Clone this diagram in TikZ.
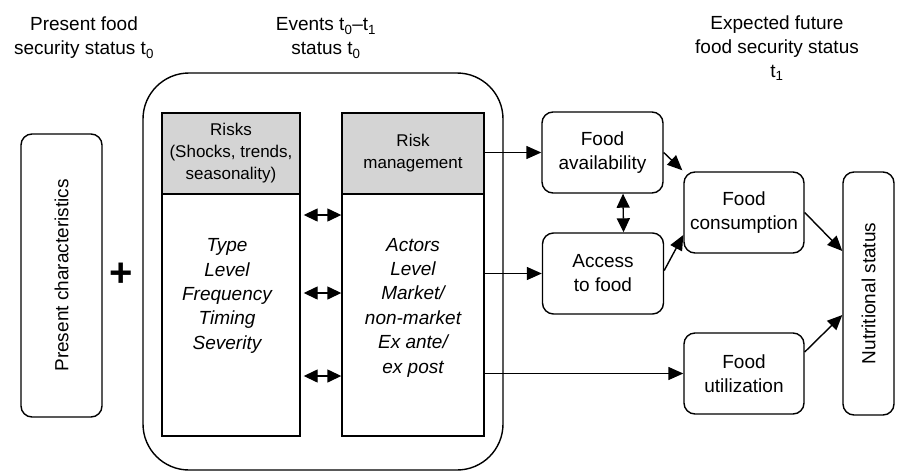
\documentclass[tikz,border=0pt]{standalone}
\usepackage{fontspec}
\setmainfont{Liberation Sans}
\usetikzlibrary{arrows.meta,calc}

\begin{document}
\begin{tikzpicture}[x=1pt,y=-1pt,
  line width=1.4pt,
  txt/.style={font=\fontsize{19}{24}\selectfont, align=center, inner sep=0pt},
  smalltxt/.style={font=\fontsize{17}{22}\selectfont, align=center, inner sep=0pt},
  itxt/.style={font=\fontsize{19}{24.4}\selectfont\itshape, align=center, inner sep=0pt},
  rbox/.style={draw, rounded corners=11pt, inner sep=0pt, txt},
  sqbox/.style={draw, rectangle, inner sep=0pt},
  headbox/.style={sqbox, fill=black!17, smalltxt},
  arr/.style={-{Triangle[length=15pt,width=13pt]}},
  dbl/.style={{Triangle[length=14pt,width=13pt]}-{Triangle[length=14pt,width=13pt]}}
]
\useasboundingbox (0,0) rectangle (897,472);

% column headings
\node[txt] (hnow) at (84,38) {Present food\\security status t\textsubscript{0}};
\node[txt] (hevents) at (326,38) {Events t\textsubscript{0}–t\textsubscript{1}\\status t\textsubscript{0}};
\node[txt] (hfuture) at (777,48) {Expected future\\food security status\\t\textsubscript{1}};

% present situation
\node[rbox, minimum width=81pt, minimum height=283pt] (pc) at (61.5,275.5) {};
\node[txt, rotate=90] (pctext) at (pc.center) {Present characteristics};
\node[font=\fontsize{40}{40}\bfseries\selectfont, inner sep=0pt] (plus) at (121,275) {+};

% events frame
\node[draw, rectangle, rounded corners=46pt, minimum width=360pt, minimum height=397pt, inner sep=0pt] (events) at (323,271.5) {};

% risks column
\node[headbox, minimum width=138pt, minimum height=81pt] (riskhead) at (231,153.5) {Risks\\(Shocks, trends,\\seasonality)};
\node[sqbox, minimum width=138pt, minimum height=242pt] (riskbody) at (231,315) {};
\node[itxt] (riskitems) at (227,296) {Type\\Level\\Frequency\\Timing\\Severity};

% risk management column
\node[headbox, minimum width=142pt, minimum height=81pt] (rmhead) at (413,153.5) {Risk\\management};
\node[sqbox, minimum width=142pt, minimum height=242pt] (rmbody) at (413,315) {};
\node[itxt] (rmitems) at (413,307.5) {Actors\\Level\\Market/\\non-market\\Ex ante/\\ex post};

% interaction between risks and their management
\draw[dbl, shorten <=3pt] ([yshift=100pt]riskbody.east) -- ([yshift=100pt]rmbody.west);
\draw[dbl, shorten <=3pt] ([yshift=22pt]riskbody.east) -- ([yshift=22pt]rmbody.west);
\draw[dbl, shorten <=3pt] ([yshift=-61pt]riskbody.east) -- ([yshift=-61pt]rmbody.west);

% food security dimensions
\node[rbox, minimum width=121pt, minimum height=81pt] (avail) at (602.5,152.5) {Food\\availability};
\node[rbox, minimum width=121pt, minimum height=81pt] (access) at (603,273.5) {Access\\to food};
\node[rbox, minimum width=120pt, minimum height=81pt] (cons) at (744,212.5) {Food\\consumption};
\node[rbox, minimum width=120pt, minimum height=81pt] (util) at (744,373.5) {Food\\utilization};
\node[rbox, minimum width=51pt, minimum height=243pt] (nut) at (868.5,293.5) {};
\node[txt, rotate=90] (nuttext) at (nut.center) {Nutritional status};

% flows
\draw[arr] (rmhead.east |- avail.west) -- (avail.west);
\draw[arr] (rmbody.east |- access.west) -- (access.west);
\draw[arr] (rmbody.east |- util.west) -- (util.west);
\draw[dbl] ([xshift=20.5pt]avail.south) -- ([xshift=20.5pt]access.north);
\draw[arr] (avail.east) -- ([xshift=-1pt,yshift=1pt]cons.north west);
\draw[arr] ([yshift=3pt]access.east) -- ([yshift=-22.5pt]cons.west);
\draw[arr] (cons.east) -- ([yshift=42.5pt]nut.west);
\draw[arr] ([yshift=21.5pt]util.east) -- ([yshift=-21.5pt]nut.west);
\end{tikzpicture}
\end{document}
